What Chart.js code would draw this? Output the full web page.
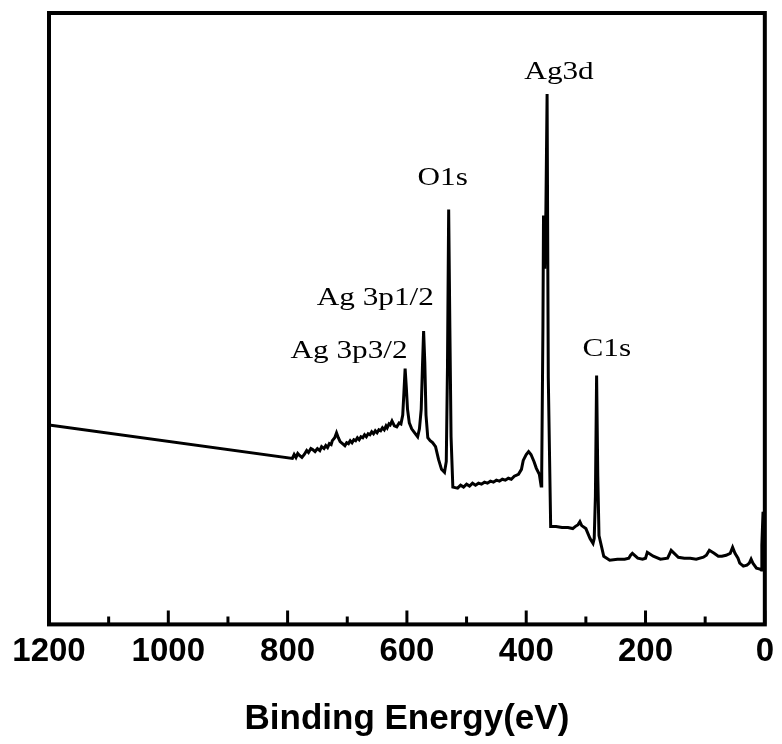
<!DOCTYPE html>
<html>
<head>
<meta charset="utf-8">
<script src="https://cdn.jsdelivr.net/npm/chart.js@4.4.1/dist/chart.umd.min.js"></script>
<style>
  body { margin: 0; background: #fff; }
  #wrap { width: 782px; height: 744px; }
</style>
</head>
<body>
<div id="wrap"><canvas id="xps"></canvas></div>
<script>
// XPS survey spectrum (binding energy in eV, intensity in counts)
var energy = [1200, 792, 789, 786, 783, 780, 776, 772, 768, 765, 761, 758, 754, 750, 746, 743, 739, 736,
  733, 730, 727, 725, 721, 718, 715, 712, 708, 704, 701, 698, 695, 692, 689, 686, 683, 680, 677, 674,
  671, 668, 665, 662, 659, 656, 653, 650, 647, 644, 641, 638, 635, 633, 630, 628, 625, 621, 617, 613,
  610, 607, 605, 603, 601, 599, 596, 592, 587, 582, 579, 576, 574, 572, 570, 568, 565, 561, 557, 552,
  547, 542, 537, 534, 532, 530, 528, 526, 523, 515, 510, 505, 500, 495, 490, 485, 480, 475, 470, 465,
  460, 455, 450, 445, 440, 435, 430, 425, 420, 413, 408, 405, 400, 396, 392, 387, 383, 378, 375, 374,
  372, 371, 370, 369, 367, 365, 363, 359, 350, 340, 330, 322, 318, 313, 310, 307, 300, 293, 288,
  286, 284, 282, 280, 278, 270, 260, 247, 235, 228, 225, 222, 213, 205, 200, 197, 187, 175, 163, 160,
  157, 145, 135, 125, 115, 103, 98, 93, 85, 78, 72, 65, 58, 54, 50, 45, 42, 36, 30, 26, 23, 20, 14, 8,
  6, 5, 3, 2, 0];
var counts = [20200, 16800, 17200, 16900, 17300, 17100, 16900, 17200, 17600, 17400, 17800, 17700, 17500,
  17800, 17600, 18000, 17800, 18100, 17900, 18300, 18200, 18600, 18900, 19400, 18900, 18500, 18300,
  18100, 18400, 18300, 18600, 18400, 18700, 18600, 18900, 18700, 19000, 18900, 19200, 19000, 19300,
  19200, 19500, 19300, 19600, 19400, 19700, 19600, 19900, 19700, 20100, 19900, 20300, 20200, 20600,
  20100, 20000, 20400, 20300, 21200, 23500, 25900, 24000, 21800, 20400, 19800, 19400, 19000, 19800,
  21800, 26000, 29700, 26500, 21200, 18900, 18600, 18400, 18000, 16700, 15700, 15400, 16500, 26000,
  42000, 30000, 19000, 13900, 13800, 14100, 13900, 14200, 14000, 14300, 14100, 14300, 14200, 14400,
  14300, 14500, 14400, 14600, 14500, 14700, 14600, 14800, 14700, 15000, 15200, 15700, 16600, 17200,
  17500, 17200, 16500, 15800, 15200, 14000, 15500, 30000, 41400, 38000, 36000, 42000, 53700, 25000,
  9900, 9900, 9800, 9800, 9700, 9900, 10100, 10400, 10000, 9700, 8700, 8200, 8700, 13000,
  25200, 15000, 9000, 6900, 6500, 6600, 6600, 6700, 7000, 7200, 6700, 6600, 6700, 7300, 6900, 6600,
  6700, 7100, 7500, 6800, 6700, 6700, 6600, 6800, 7000, 7500, 7200, 6900, 6900, 7000, 7200, 7800, 7200,
  6700, 6200, 5900, 6000, 6200, 6600, 6200, 5700, 5600, 5500, 8000, 11400, 11000, 10200, 4200];

// peak labels: text, energy of label centre, intensity of label baseline
var peakNames = ['Ag 3p3/2', 'Ag 3p1/2', 'O1s', 'Ag3d', 'C1s'];
var peakLabelX = [697, 653, 540, 345, 265];
var peakLabelY = [27000, 32300, 44500, 55200, 27200];

var majorTicks = [1200, 1000, 800, 600, 400, 200, 0];
var minorTicks = [1100, 900, 700, 500, 300, 100];

window.onload = function() {
  var ctx = document.getElementById('xps').getContext('2d');

  // frame, inward ticks and peak names
  const frameAndLabels = {
    id: 'frameAndLabels',
    afterDraw(chart) {
      const { ctx, chartArea: { left, right, top, bottom }, scales: { x, y } } = chart;
      ctx.save();
      ctx.strokeStyle = '#000';
      ctx.lineWidth = 4;
      ctx.strokeRect(left, top, right - left, bottom - top);

      ctx.lineWidth = 3;
      ctx.beginPath();
      majorTicks.forEach(v => {
        const px = x.getPixelForValue(v);
        ctx.moveTo(px, bottom);
        ctx.lineTo(px, bottom - 14);
      });
      minorTicks.forEach(v => {
        const px = x.getPixelForValue(v);
        ctx.moveTo(px, bottom);
        ctx.lineTo(px, bottom - 8);
      });
      ctx.stroke();

      ctx.fillStyle = '#000';
      ctx.font = '26px "Liberation Serif", "Times New Roman", serif';
      ctx.textAlign = 'center';
      ctx.textBaseline = 'alphabetic';
      peakNames.forEach((name, i) => {
        ctx.save();
        ctx.translate(x.getPixelForValue(peakLabelX[i]), y.getPixelForValue(peakLabelY[i]));
        ctx.scale(1.2, 1); // the original text is a bit stretched
        ctx.fillText(name, 0, 0);
        ctx.restore();
      });
      ctx.restore();
    }
  };

  new Chart(ctx, {
    type: 'line',
    data: {
      datasets: [{
        data: energy.map((e, i) => ({ x: e, y: counts[i] })),
        borderColor: '#000',
        borderWidth: 3,
        pointRadius: 0,
        tension: 0,
        fill: false
      }]
    },
    options: {
      responsive: true,
      maintainAspectRatio: false,
      animation: false,
      layout: {
        padding: { left: 49, right: 13, top: 13, bottom: 0 }
      },
      scales: {
        x: {
          type: 'linear',
          reverse: true,
          min: 0,
          max: 1200,
          grid: { display: false, drawTicks: false },
          border: { display: false },
          ticks: {
            stepSize: 200,
            autoSkip: false,
            maxRotation: 0,
            padding: 8,
            color: '#000',
            callback: v => String(v),
            font: { family: '"Liberation Sans", Arial, sans-serif', size: 33, weight: 'bold' }
          },
          title: {
            display: true,
            text: 'Binding Energy(eV)',
            color: '#000',
            padding: { top: 18, bottom: 4 },
            font: { family: '"Liberation Sans", Arial, sans-serif', size: 35, weight: 'bold' }
          }
        },
        y: {
          display: false,
          min: 0,
          max: 61900
        }
      },
      plugins: {
        legend: { display: false },
        tooltip: { enabled: false }
      }
    },
    plugins: [frameAndLabels]
  });
};
</script>
</body>
</html>
